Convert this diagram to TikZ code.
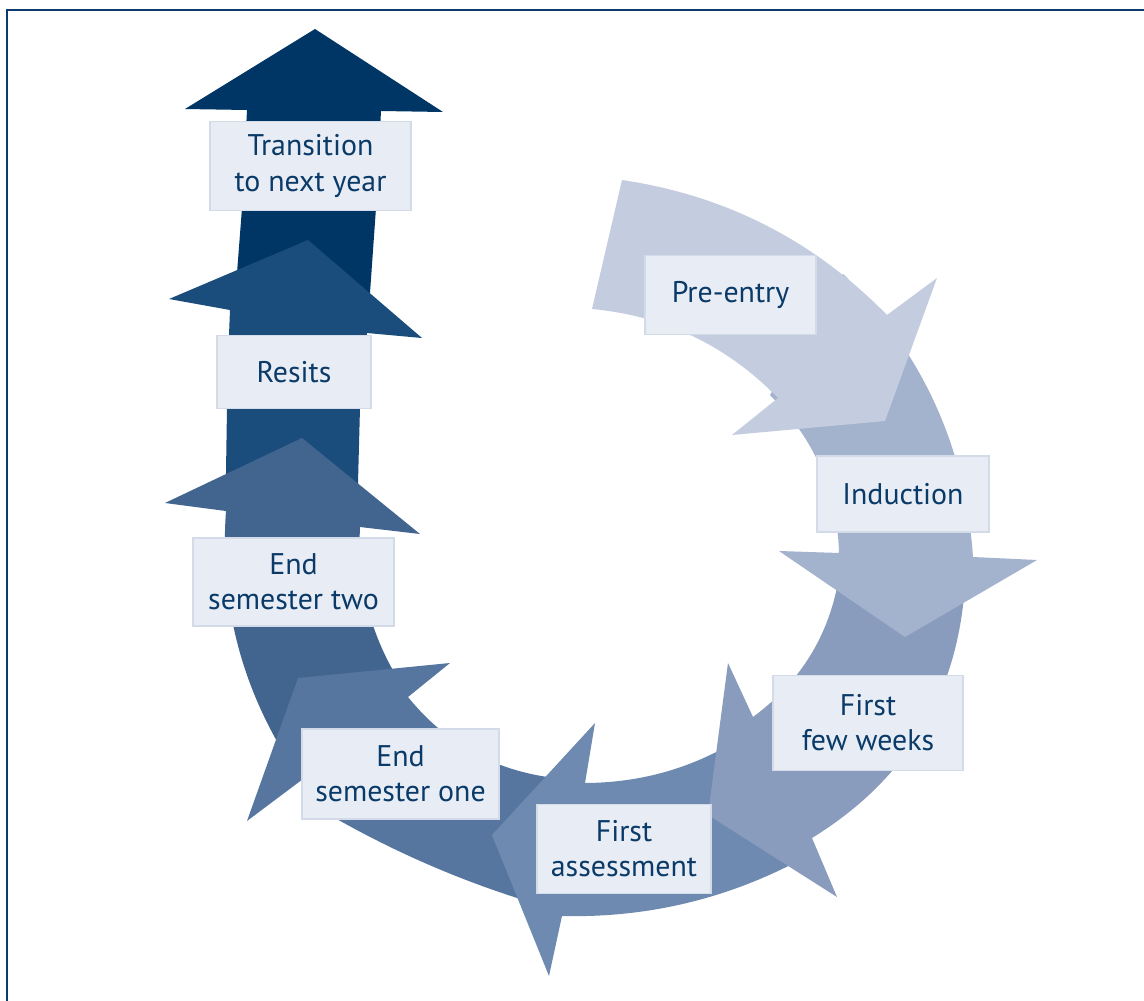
\documentclass[tikz,border=0pt]{standalone}
\usepackage{fontspec}
\setmainfont{PT Sans}
\definecolor{frameblue}{RGB}{12,58,106}
\definecolor{transcol}{RGB}{0,54,101}
\definecolor{resitcol}{RGB}{26,77,124}
\definecolor{esemtwocol}{RGB}{65,101,143}
\definecolor{esemonecol}{RGB}{86,118,160}
\definecolor{assesscol}{RGB}{110,138,176}
\definecolor{weekscol}{RGB}{138,156,189}
\definecolor{inductcol}{RGB}{163,178,205}
\definecolor{precol}{RGB}{196,205,224}
\definecolor{boxfill}{RGB}{232,236,244}
\definecolor{boxline}{RGB}{212,219,232}
\definecolor{textblue}{RGB}{10,58,104}
\tikzset{
  stage/.style={draw=boxline,line width=1.1pt,fill=boxfill,text=textblue,
    align=center,inner sep=0pt,font=\fontsize{17}{20}\selectfont}
}
\begin{document}
\begin{tikzpicture}[x=0.02cm,y=-0.02cm]
\useasboundingbox (0,0) rectangle (1144,1001);
\fill[white] (0,0) rectangle (1144,1001);
%frame
\draw[frameblue,line width=1.5pt] (7,1001) -- (7,10) -- (1144,10);
%transition to next year
\fill[transcol] (368,325) -- (370,293) -- (376,208) -- (381,111) -- (443,112) -- (315,29)
  -- (185,109) -- (247,110) -- (242,208) -- (237,273) -- (238,300) -- cycle;
%resits
\fill[resitcol] (359,520) -- (358,483) -- (360,408) -- (363,370) -- (367,333) -- (422,338)
  -- (308,240) -- (169,299) -- (230,310) -- (228,360) -- (227,408) -- (226,472) -- (228,505) -- cycle;
%end semester two
\fill[esemtwocol] (405,690) .. controls (372,640.7) and (357,586.3) .. (360,527)
  -- (420,534) -- (302,438) -- (165,503) -- (226,511)
  .. controls (219.7,598.6) and (239.3,680) .. (285,755) -- cycle;
%end semester one
\fill[esemonecol] (565,912) .. controls (484.3,890.6) and (407.7,859.2) .. (335,818)
  -- (315,770) -- (247,821) -- (298,678) -- (450,663) -- (408,697)
  .. controls (446,743.9) and (495,770.9) .. (555,778) -- cycle;
%first assessment
\fill[assesscol] (800,860) .. controls (725.6,899.4) and (646.2,918) .. (562,916)
  -- (549,976) -- (492,835) -- (595,723) -- (585,783)
  .. controls (649.6,782.7) and (708,763.3) .. (760,725) -- cycle;
%first few weeks
\fill[weekscol] (965,585) .. controls (957.4,695.5) and (906.4,779.9) .. (812,838)
  -- (837,897) -- (708,815) -- (728,663) -- (753,717)
  .. controls (802.7,680.2) and (831.7,631.2) .. (840,570) -- cycle;
%induction
\fill[inductcol] (843,274) .. controls (922,351.9) and (965.4,446.3) .. (973,557)
  -- (1037,560) -- (905,637) -- (779,551) -- (839,553)
  .. controls (837.3,491) and (814.3,438.4) .. (770,395) -- cycle;
%pre-entry
\fill[precol] (622,180) .. controls (725.4,195.3) and (813.8,240.3) .. (887,315)
  -- (937,278) -- (885,421) -- (732,435) -- (778,398)
  .. controls (726.9,345.5) and (664.9,315.9) .. (592,309) -- cycle;
%labels
\node[stage,minimum width=4.02cm,minimum height=1.78cm] (transition) at (310.5,166) {Transition\\to next year};
\node[stage,minimum width=3.08cm,minimum height=1.46cm] (resits) at (294,372) {Resits};
\node[stage,minimum width=4.02cm,minimum height=1.76cm] (esemtwo) at (293.5,582) {End\\semester two};
\node[stage,minimum width=3.94cm,minimum height=1.80cm] (esemone) at (400.5,774) {End\\semester one};
\node[stage,minimum width=3.48cm,minimum height=1.78cm] (assess) at (624,849) {First\\assessment};
\node[stage,minimum width=3.80cm,minimum height=1.90cm] (weeks) at (868,723) {First\\few weeks};
\node[stage,minimum width=3.44cm,minimum height=1.52cm] (induct) at (903,494) {Induction};
\node[stage,minimum width=3.42cm,minimum height=1.58cm] (preentry) at (730.5,295) {Pre-entry};
\end{tikzpicture}
\end{document}
